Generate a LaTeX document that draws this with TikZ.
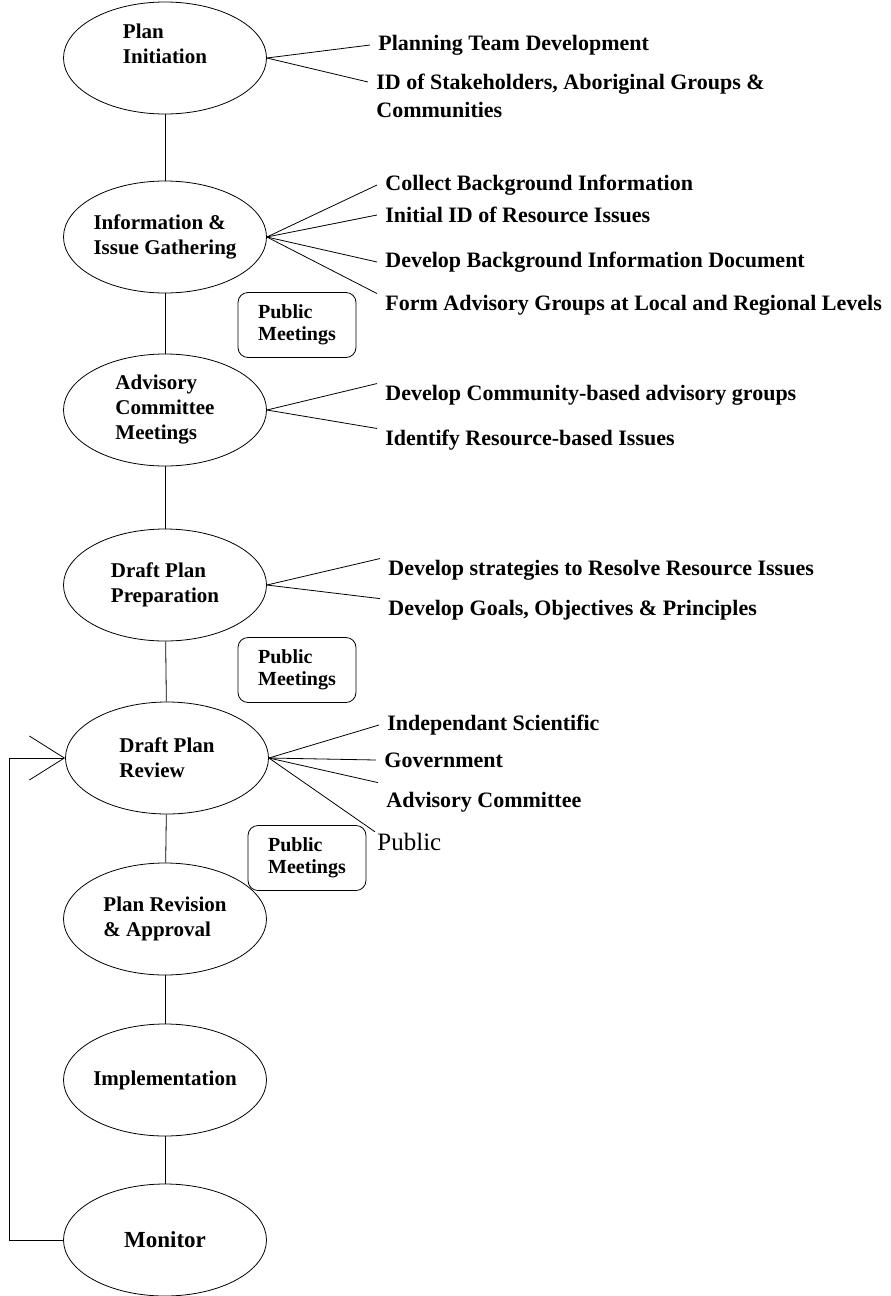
\documentclass[tikz,border=0pt]{standalone}
\usepackage{fontspec}
\setmainfont{Liberation Serif}
\usetikzlibrary{shapes.geometric,arrows.meta}
\tikzset{
	stage/.style={ellipse,draw,minimum width=203pt,minimum height=112pt,inner xsep=-8pt,inner ysep=0pt,align=left,font=\bfseries\fontsize{21}{25}\selectfont},
	meeting/.style={draw,rounded corners=10pt,minimum width=118pt,minimum height=65pt,align=left,font=\bfseries\fontsize{20}{22}\selectfont},
	task/.style={anchor=west,inner xsep=8pt,inner ysep=1pt,align=left,font=\bfseries\fontsize{22}{28}\selectfont}
}
\begin{document}
\begin{tikzpicture}[x=1pt,y=-1pt,line width=0.8pt]
	\useasboundingbox (0,0) rectangle (891,1296);
	% planning stages
	\node[stage,text depth=29pt] (init) at (165,58) {Plan\\Initiation};
	\node[stage] (info) at (165,237) {Information \&\\Issue Gathering};
	\node[stage] (adv) at (165,410) {Advisory\\Committee\\Meetings};
	\node[stage] (prep) at (165,585) {Draft Plan\\Preparation};
	\node[stage] (rev) at (167,758) {Draft Plan\\Review};
	\node[stage] (revis) at (165,919) {Plan Revision\\\& Approval};
	\node[stage] (impl) at (165,1080) {Implementation};
	\node[stage] (mon) at (165,1240) {\fontsize{23}{25}\selectfont Monitor};
	\foreach \a/\b in {init/info,info/adv,adv/prep,prep/rev,rev/revis,revis/impl,impl/mon}
		\draw (\a) -- (\b);
	\node[meeting] (pub1) at (297,325) {Public\\Meetings};
	\node[meeting] (pub2) at (297,670) {Public\\Meetings};
	\node[meeting] (pub3) at (307,858) {Public\\Meetings};
	% tasks of each stage
	\node[task] (team) at (370,45) {Planning Team Development};
	\node[task,anchor=north west] (stake) at (368,73) {ID of Stakeholders, Aboriginal Groups \&\\Communities};
	\node[task] (collect) at (377,185) {Collect Background Information};
	\node[task] (issues) at (377,215) {Initial ID of Resource Issues};
	\node[task] (bgdoc) at (377,262) {Develop Background Information Document};
	\node[task] (groups) at (377,305) {Form Advisory Groups at Local and Regional Levels};
	\node[task] (commgrp) at (377,395) {Develop Community-based advisory groups};
	\node[task] (resiss) at (377,440) {Identify Resource-based Issues};
	\node[task] (strat) at (380,570) {Develop strategies to Resolve Resource Issues};
	\node[task] (goals) at (380,610) {Develop Goals, Objectives \& Principles};
	\node[task] (sci) at (379,725) {Independant Scientific};
	\node[task] (gov) at (376,760) {Government};
	\node[task] (advc) at (378,802) {Advisory Committee};
	\node[task,inner xsep=2pt,font=\fontsize{25}{28}\selectfont] (pub) at (375,842) {Public};
	\draw (init.east) -- (team.west);
	\draw (init.east) -- ([yshift=-9pt]stake.north west);
	\foreach \t in {collect,issues,bgdoc}
		\draw (info.east) -- (\t.west);
	\draw (info.east) -- (groups.north west);
	\draw (adv.east) -- (commgrp.north west);
	\draw (adv.east) -- (resiss.north west);
	\draw (prep.east) -- (strat.north west);
	\draw (prep.east) -- (goals.north west);
	\draw (rev.east) -- (sci.west);
	\draw (rev.east) -- (gov.west);
	\draw (rev.east) -- ([yshift=8pt]advc.north west);
	\draw (rev.east) -- (pub.north west);
	% feedback from monitoring
	\coordinate (loop) at (9,0);
	\draw[-{Straight Barb[length=35pt,width=44pt]}] (mon.west) -| (loop |- rev.west) -- (rev.west);
\end{tikzpicture}
\end{document}
